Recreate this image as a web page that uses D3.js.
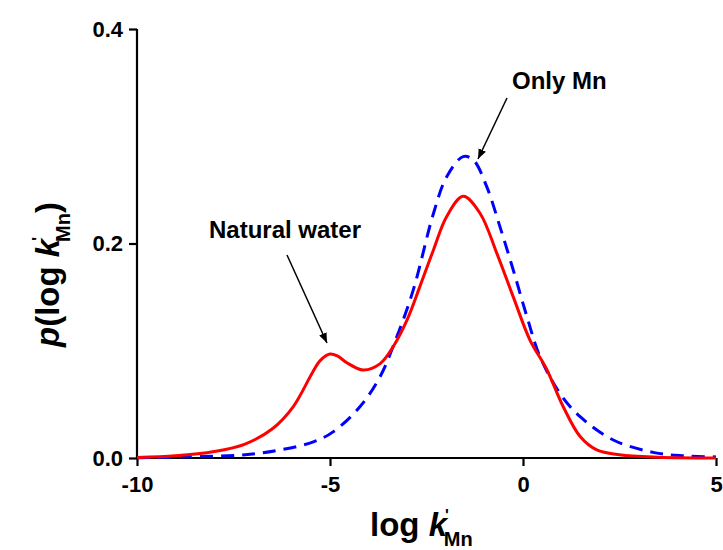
<!DOCTYPE html>
<html>
<head>
<meta charset="utf-8">
<script src="https://cdn.jsdelivr.net/npm/d3@7"></script>
<style>
  body { margin: 0; background: #fff; }
  text { font-family: Arial, "Liberation Sans", sans-serif; font-weight: bold; }
</style>
</head>
<body>
<svg id="chart" width="723" height="550"></svg>
<script>
/* DATA */
var xTicks = [-10, -5, 0, 5];
var yTicks = [0.0, 0.2, 0.4];

var naturalX = [-10, -9, -8, -7.2, -6.5, -5.95, -5.45, -5.25, -5.0, -4.8, -4.57, -4.14, -3.7, -3.36, -3.0, -2.67, -2.32, -1.98, -1.55, -1.11, -0.68, -0.25, 0.18, 0.61, 1.04, 1.48, 1.91, 2.5, 3.5, 5];
var naturalY = [0.0005, 0.002, 0.006, 0.013, 0.027, 0.048, 0.080, 0.091, 0.097, 0.095, 0.089, 0.082, 0.088, 0.104, 0.129, 0.160, 0.194, 0.225, 0.244, 0.228, 0.191, 0.150, 0.110, 0.083, 0.048, 0.020, 0.0075, 0.003, 0.0008, 0.0001];

var onlyMnX = [-10, -8.9, -7.2, -6.3, -5.43, -4.91, -4.22, -3.7, -3.27, -2.84, -2.32, -1.98, -1.55, -1.29, -0.94, -0.6, -0.25, 0.1, 0.44, 0.96, 1.48, 2.34, 3.4, 4.2, 5];
var onlyMnY = [0.0002, 0.001, 0.003, 0.0075, 0.015, 0.0246, 0.048, 0.076, 0.113, 0.157, 0.228, 0.262, 0.281, 0.278, 0.253, 0.216, 0.175, 0.132, 0.0945, 0.060, 0.0385, 0.0168, 0.005, 0.002, 0.001];

/* SCALES */
var svg = d3.select("#chart");
var x = d3.scaleLinear().domain([-10, 5]).range([137, 716]);
var y = d3.scaleLinear().domain([0, 0.4]).range([458, 29]);

/* AXES */
var xAxis = svg.append("g")
  .attr("transform", "translate(0,458)")
  .call(d3.axisBottom(x).tickValues(xTicks).tickSize(8).tickPadding(10)
    .tickFormat(function(d) { return String(d); }));
var yAxis = svg.append("g")
  .attr("transform", "translate(137,0)")
  .call(d3.axisLeft(y).tickValues(yTicks).tickSize(8).tickPadding(6).tickFormat(d3.format(".1f")));

[xAxis, yAxis].forEach(function(a) {
  a.select(".domain").attr("stroke", "#000").attr("stroke-width", 2.2);
  a.selectAll(".tick line").attr("stroke", "#000").attr("stroke-width", 2.2);
  a.selectAll(".tick text")
    .attr("fill", "#000")
    .style("font-size", "22px")
    .style("font-family", "Arial, 'Liberation Sans', sans-serif")
    .style("font-weight", "bold");
});
xAxis.select(".domain").attr("d", "M137,0H716");
yAxis.select(".domain").attr("d", "M0,458V29");

/* CURVES */
var line = d3.line()
  .x(function(d) { return x(d[0]); })
  .y(function(d) { return y(d[1]); })
  .curve(d3.curveCatmullRom.alpha(0.5));

svg.append("path")
  .datum(onlyMnX.map(function(v, i) { return [v, onlyMnY[i]]; }))
  .attr("d", line)
  .attr("fill", "none")
  .attr("stroke", "#0000ff")
  .attr("stroke-width", 3)
  .attr("stroke-dasharray", "13,8");

svg.append("path")
  .datum(naturalX.map(function(v, i) { return [v, naturalY[i]]; }))
  .attr("d", line)
  .attr("fill", "none")
  .attr("stroke", "#ff0000")
  .attr("stroke-width", 3);

/* ARROWS AND LABELS */
svg.append("defs").append("marker")
  .attr("id", "arrow")
  .attr("viewBox", "0 0 10 10")
  .attr("refX", 10).attr("refY", 5)
  .attr("markerWidth", 10).attr("markerHeight", 10)
  .attr("markerUnits", "userSpaceOnUse")
  .attr("orient", "auto")
  .append("path").attr("d", "M0,1L10,5L0,9Z").attr("fill", "#000");

svg.append("line")
  .attr("x1", 287).attr("y1", 255).attr("x2", 327).attr("y2", 343)
  .attr("stroke", "#000").attr("stroke-width", 1.5)
  .attr("marker-end", "url(#arrow)");
svg.append("text").attr("x", 209).attr("y", 238)
  .style("font-size", "24px").text("Natural water");

svg.append("line")
  .attr("x1", 507).attr("y1", 98).attr("x2", 478).attr("y2", 159)
  .attr("stroke", "#000").attr("stroke-width", 1.5)
  .attr("marker-end", "url(#arrow)");
svg.append("text").attr("x", 512).attr("y", 89)
  .style("font-size", "24px").text("Only Mn");

/* AXIS TITLES */
var xt = svg.append("text").attr("x", 370).attr("y", 536).style("font-size", "33px");
xt.append("tspan").text("log ");
xt.append("tspan").style("font-style", "italic").text("k");
xt.append("tspan").attr("dx", -2).attr("dy", -15).style("font-size", "16px").text("'");
xt.append("tspan").attr("dx", -5).attr("dy", 25).style("font-size", "20px").text("Mn");

var yt = svg.append("text")
  .attr("transform", "translate(59,347) rotate(-90)")
  .style("font-size", "33px");
yt.append("tspan").style("font-style", "italic").text("p");
yt.append("tspan").text("(log ");
yt.append("tspan").style("font-style", "italic").text("k");
yt.append("tspan").attr("dx", -2).attr("dy", -15).style("font-size", "16px").text("'");
yt.append("tspan").attr("dx", -5).attr("dy", 26).style("font-size", "20px").text("Mn");
yt.append("tspan").attr("dy", -11).text(")");
</script>
</body>
</html>
